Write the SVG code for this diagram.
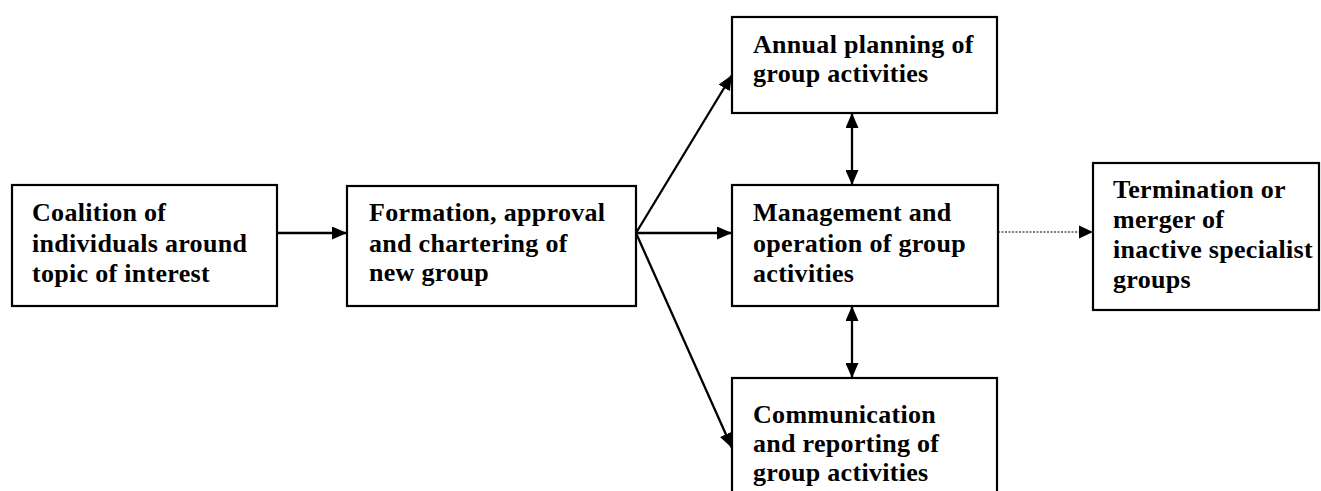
<svg xmlns="http://www.w3.org/2000/svg" width="1321" height="491" viewBox="0 0 1321 491">
<style>
.box{fill:#fff;stroke:#000;stroke-width:2.2}
.t{font-family:"Liberation Serif","Times New Roman",serif;font-weight:bold;font-size:26px;letter-spacing:0.3px;fill:#000}
.ln{stroke:#000;stroke-width:2.3;fill:none}
.dot{stroke:#000;stroke-width:1.2;fill:none;stroke-dasharray:2 1.5}
</style>
<defs>
<marker id="ah" markerUnits="userSpaceOnUse" markerWidth="17" markerHeight="13" refX="15" refY="6.5" orient="auto-start-reverse">
<path d="M0,0 L15,6.5 L0,13 Z" fill="#000"/>
</marker>
</defs>
<rect width="1321" height="491" fill="#fff"/>
<g id="connectors">
<line class="ln" x1="277" y1="233" x2="347" y2="233" marker-end="url(#ah)"/>
<line class="ln" x1="636" y1="233" x2="732" y2="75" marker-end="url(#ah)"/>
<line class="ln" x1="636" y1="233" x2="732" y2="233" marker-end="url(#ah)"/>
<line class="ln" x1="636" y1="233" x2="732" y2="448" marker-end="url(#ah)"/>
<line class="ln" x1="852" y1="113" x2="852" y2="185" marker-start="url(#ah)" marker-end="url(#ah)"/>
<line class="ln" x1="852" y1="306" x2="852" y2="378" marker-start="url(#ah)" marker-end="url(#ah)"/>
<line class="dot" x1="998" y1="232" x2="1080" y2="232"/>
<path d="M1079,225.5 L1093,232 L1079,238.5 Z" fill="#000"/>
</g>
<g id="n1">
<rect class="box" x="12" y="185" width="265" height="121"/>
<text class="t" x="32" y="221">Coalition of</text>
<text class="t" x="32" y="252">individuals around</text>
<text class="t" x="32" y="282">topic of interest</text>
</g>
<g id="n2">
<rect class="box" x="347" y="186" width="289" height="120"/>
<text class="t" x="369" y="221">Formation, approval</text>
<text class="t" x="369" y="252">and chartering of</text>
<text class="t" x="369" y="281">new group</text>
</g>
<g id="n3">
<rect class="box" x="732" y="17" width="265" height="96"/>
<text class="t" x="753" y="53">Annual planning of</text>
<text class="t" x="753" y="82">group activities</text>
</g>
<g id="n4">
<rect class="box" x="732" y="185" width="266" height="121"/>
<text class="t" x="753" y="221">Management and</text>
<text class="t" x="753" y="252">operation of group</text>
<text class="t" x="753" y="282">activities</text>
</g>
<g id="n5">
<rect class="box" x="732" y="378" width="265" height="125"/>
<text class="t" x="753" y="423">Communication</text>
<text class="t" x="753" y="452">and reporting of</text>
<text class="t" x="753" y="481">group activities</text>
</g>
<g id="n6">
<rect class="box" x="1093" y="163" width="226" height="147"/>
<text class="t" x="1113" y="198">Termination or</text>
<text class="t" x="1113" y="228">merger of</text>
<text class="t" x="1113" y="258">inactive specialist</text>
<text class="t" x="1113" y="288">groups</text>
</g>
</svg>
